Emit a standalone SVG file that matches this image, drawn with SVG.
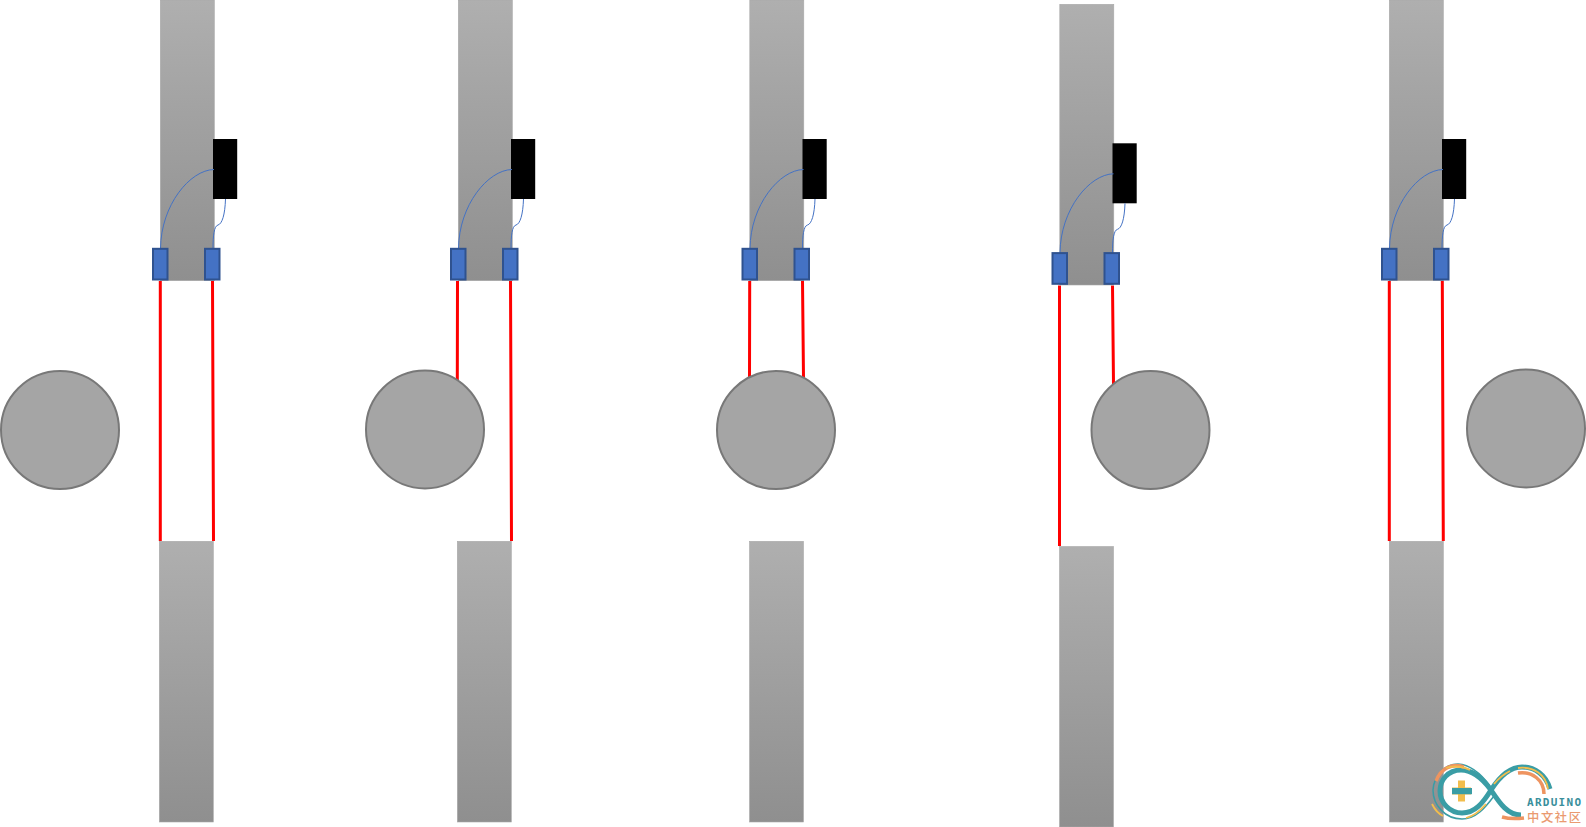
<svg xmlns="http://www.w3.org/2000/svg" width="1586" height="827" viewBox="0 0 1586 827">
<style>
.bar{fill:url(#g);stroke:#a8a8a8;stroke-width:.6}
.blk{fill:#000}
.blu{fill:#4472c4;stroke:#2f528f;stroke-width:2}
.w{fill:none;stroke:#4472c4;stroke-width:1}
.c{fill:#a5a5a5;stroke:#787878;stroke-width:2}
.r{stroke:#f00;stroke-width:3;fill:none}
.lg{fill:none}
.t{stroke:#3a9da5}
.o{stroke:#ee9460}
.y{stroke:#f2bd4c}
</style>
<defs>
<linearGradient id="g" x1="0" y1="0" x2="0" y2="1"><stop offset="0" stop-color="#afafaf"/><stop offset="1" stop-color="#8f8f8f"/></linearGradient>
<g id="top">
<rect class="bar" x="160.300" y="0" width="54" height="280.700"/>
<rect class="blk" x="213" y="139" width="24.200" height="60"/>
<path class="w" d="M160.500 248.500C161 205 190 170 214 169.500"/>
<path class="w" d="M225.500 199C225 215 222 224 218 225C214 226 213 236 213 248.500"/>
<rect class="blu" x="153" y="248.800" width="14.500" height="30.700"/>
<rect class="blu" x="205" y="248.800" width="14.500" height="30.700"/>
</g>
</defs>
<g id="connectors">
<path class="r" d="M160.300 281V541M212.500 281L213.500 541"/>
<path class="r" d="M457.500 281L457.300 380M510.500 281L511.500 541"/>
<path class="r" d="M749.700 281L749.500 377M802.500 281L803.500 378"/>
<path class="r" d="M1059.500 285.500V546M1112.500 285.500L1113.500 384"/>
<path class="r" d="M1389.300 281V541M1442.300 281L1443.300 541"/>
</g>
<g id="slide-1"><use href="#top"/></g>
<g id="slide-2"><use href="#top" x="298"/></g>
<g id="slide-3"><use href="#top" x="589.500"/></g>
<g id="slide-4"><use href="#top" x="899.500" y="4.300"/></g>
<g id="slide-5"><use href="#top" x="1229"/></g>
<g id="bottom-1"><rect class="bar" x="159.300" y="541.300" width="54" height="280.700"/></g>
<g id="bottom-2"><rect class="bar" x="457.300" y="541.300" width="54" height="280.700"/></g>
<g id="bottom-3"><rect class="bar" x="749.500" y="541.300" width="54" height="280.700"/></g>
<g id="bottom-4"><rect class="bar" x="1059.500" y="546.500" width="54" height="280.500"/></g>
<g id="bottom-5"><rect class="bar" x="1389.300" y="541.300" width="54" height="280.700"/></g>
<g id="wheel-1"><circle class="c" cx="60" cy="430" r="59"/></g>
<g id="wheel-2"><circle class="c" cx="425" cy="429.400" r="59"/></g>
<g id="wheel-3"><circle class="c" cx="776" cy="430" r="59"/></g>
<g id="wheel-4"><circle class="c" cx="1150.500" cy="430" r="59"/></g>
<g id="wheel-5"><circle class="c" cx="1526" cy="428.400" r="59"/></g>
<g id="logo">
<path class="lg t" stroke-width="1.500" d="M1490 786C1482 775 1472 765 1458 764C1444 764 1434 776 1433 790C1433 805 1445 819 1462 819C1476 819 1485 808 1494 796"/>
<path class="lg t" stroke-width="5" d="M1491 790C1482 778 1473 770 1461 770C1448 770 1440 780 1440 791C1440 803 1450 813 1462 813C1475 813 1483 803 1491 790C1500 776 1510 767 1522 767C1535 767 1546 775 1550 789"/>
<path class="lg t" stroke-width="5" d="M1491 790C1499 802 1507 815 1521 815"/>
<path class="lg o" stroke-width="3.500" d="M1464 767C1452 763 1441 768 1436 781M1518 773C1532 771 1544 780 1544 794M1502 817C1509 819 1516 819 1524 818"/>
<path class="lg y" stroke-width="1.800" d="M1446 768C1455 765 1465 767 1470 770M1432 804C1435 810 1439 814 1443 816M1466 818C1474 816 1480 811 1486 804M1494 784C1499 778 1504 774 1510 771M1518 768C1534 766 1546 775 1548 789"/>
<path fill="#f2bd4c" d="M1458 780.500h7v7h6v7h-6v7h-7v-7h-6v-7h6z"/>
<rect x="1452" y="788" width="20" height="6.200" fill="#3a9da5"/>
<text x="1527" y="805.500" font-family="'DejaVu Sans Mono','Liberation Mono',monospace" font-weight="700" font-size="11" fill="#3a8f9c" textLength="54" lengthAdjust="spacing">ARDUINO</text>
<text x="1527" y="822.300" font-family="'Noto Sans CJK SC',sans-serif" font-weight="500" font-size="12.300" fill="#ea9a70" textLength="54" lengthAdjust="spacing">中文社区</text>
</g>
</svg>
